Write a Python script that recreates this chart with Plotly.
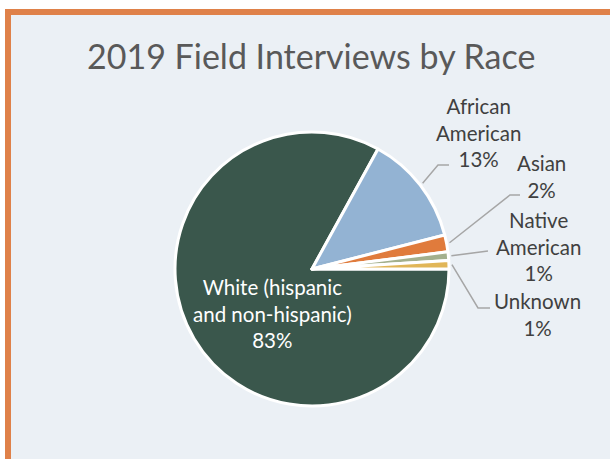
import math
import plotly.graph_objects as go

W, H = 610, 459

# Data
categories = ["White (hispanic and non-hispanic)", "African American", "Asian",
              "Native American", "Unknown"]
label_lines = [["White (hispanic", "and non-hispanic)"], ["African", "American"],
               ["Asian"], ["Native", "American"], ["Unknown"]]
shares = [83, 13, 2, 1, 1]
colors = ["#3A574C", "#93B3D3", "#E07B3C", "#A3B08D", "#E1B658"]

TITLE = "2019 Field Interviews by Race"
FONT = "Lato"


def fx(p):
    return p / W


def fy(p):
    return 1 - p / H


# pie geometry in pixels
cx, cy, r = 312, 269, 137
start_deg = 90  # first slice begins at 3 o'clock, running clockwise

fig = go.Figure(go.Pie(
    labels=categories,
    values=shares,
    sort=False,
    direction="clockwise",
    rotation=start_deg,
    marker=dict(colors=colors, line=dict(color="white", width=3)),
    textinfo="none",
    hoverinfo="label+percent",
    showlegend=False,
    domain=dict(x=[fx(cx - r), fx(cx + r)], y=[fy(cy + r), fy(cy - r)]),
))

shapes = [
    # outer orange frame and inner panel
    dict(type="rect", xref="paper", yref="paper", x0=fx(5), x1=fx(W + 20),
         y0=fy(H + 20), y1=fy(9), fillcolor="#DF8149", line_width=0, layer="below"),
    dict(type="rect", xref="paper", yref="paper", x0=fx(11), x1=fx(W + 20),
         y0=fy(H + 20), y1=fy(15), fillcolor="#EBF0F5", line_width=0, layer="below"),
]

annotations = [dict(text=TITLE, x=fx(311), y=fy(56), xref="paper", yref="paper",
                    showarrow=False, xanchor="center", yanchor="middle",
                    font=dict(family=FONT, size=34, color="#595959"))]

total = sum(shares)
mid_angles = []
acc = 0
for v in shares:
    mid_angles.append(start_deg + 360 * (acc + v / 2) / total)
    acc += v

# outside label placement: (elbow, line end, text centre) in pixels
outside = {
    1: ((438, 165), (449, 165), (478, 132)),
    2: ((510, 195), (520, 195), (541, 176)),
    3: (None, (488, 251), (538, 246)),
    4: ((478, 308), (490, 308), (537, 314)),
}

for i, (name, v) in enumerate(zip(categories, shares)):
    text = "<br>".join(label_lines[i] + [f"{v}%"])
    if i == 0:
        annotations.append(dict(text=text, x=fx(272), y=fy(313), xref="paper",
                                yref="paper", showarrow=False, xanchor="center",
                                yanchor="middle",
                                font=dict(family=FONT, size=20.5, color="white")))
        continue
    elbow, end, centre = outside[i]
    a = math.radians(mid_angles[i])
    sx, sy = cx + (r + 3) * math.sin(a), cy - (r + 3) * math.cos(a)
    pts = [(sx, sy)] + ([elbow] if elbow else []) + [end]
    path = "M " + " L ".join(f"{fx(px)},{fy(py)}" for px, py in pts)
    shapes.append(dict(type="path", xref="paper", yref="paper", path=path,
                       line=dict(color="#A6A6A6", width=1.5)))
    annotations.append(dict(text=text, x=fx(centre[0]), y=fy(centre[1]),
                            xref="paper", yref="paper", showarrow=False,
                            xanchor="center", yanchor="middle",
                            font=dict(family=FONT, size=20.5, color="#404040")))

fig.update_layout(
    width=W, height=H,
    margin=dict(l=0, r=0, t=0, b=0),
    paper_bgcolor="white",
    plot_bgcolor="white",
    shapes=shapes,
    annotations=annotations,
)

fig.write_html("out.html")
